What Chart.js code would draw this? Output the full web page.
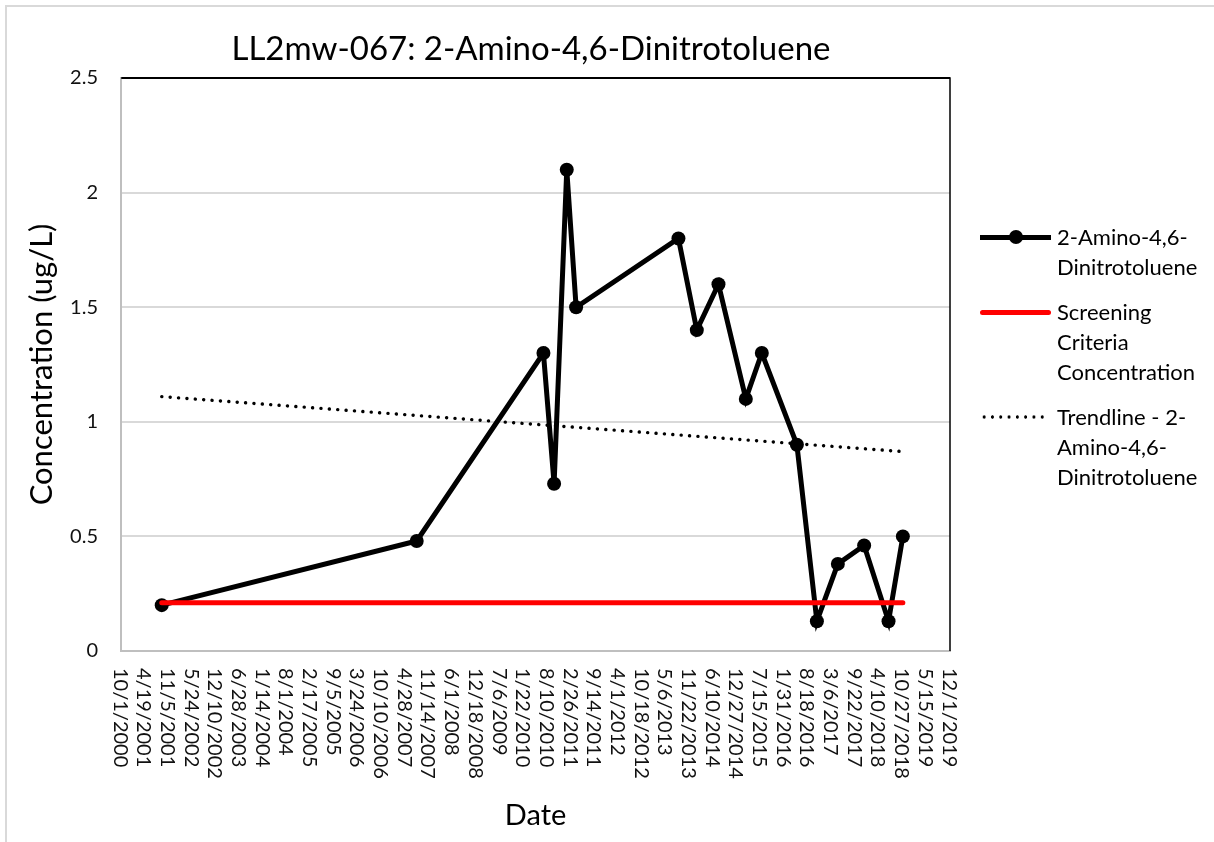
<!DOCTYPE html>
<html>
<head>
<meta charset="utf-8">
<script src="https://cdn.jsdelivr.net/npm/chart.js@4.4.1/dist/chart.umd.min.js"></script>
<style>
    html, body { margin: 0; padding: 0; background: #fff; overflow: hidden; }
    #wrap { position: relative; width: 1214px; height: 842px; font-family: Lato, "Open Sans", sans-serif; color: #000; }
    #frame { position: absolute; left: 5px; top: 5px; width: 1300px; height: 900px; border: 2px solid #d9d9d9; box-sizing: border-box; }
    #chart { position: absolute; left: 0; top: 0; }
    #title { position: absolute; left: 0; top: 27px; width: 1062px; text-align: center; font-size: 33px; line-height: 40px; }
    #legend { position: absolute; left: 980px; top: 222px; }
    .item { display: flex; margin-bottom: 15px; }
    .sym { position: relative; width: 77px; height: 30px; flex: none; }
    .sym .ln { position: absolute; left: 0; top: 13px; width: 71px; height: 5px; }
    .sym .dot { position: absolute; left: 29px; top: 8px; width: 14px; height: 14px; border-radius: 50%; background: #000; }
    .sym .dots { position: absolute; left: 0; top: 13px; width: 68px; height: 4px;
        background-image: radial-gradient(circle, #000 1.4px, transparent 1.9px); background-size: 8.3px 4px; }
    .txt { font-size: 22px; line-height: 30px; }
</style>
</head>
<body>
<div id="wrap">
    <div id="frame"></div>
    <canvas id="chart" width="1214" height="842"></canvas>
    <div id="title">LL2mw-067: 2-Amino-4,6-Dinitrotoluene</div>
    <div id="legend"></div>
</div>
<script>
// ---------- données ----------
const sampleDates = ["9/10/2001", "8/3/2007", "7/8/2010", "10/6/2010", "1/21/2011", "4/10/2011",
    "8/21/2013", "1/23/2014", "7/25/2014", "3/13/2015", "7/26/2015", "5/17/2016",
    "11/2/2016", "4/28/2017", "12/6/2017", "6/30/2018", "10/29/2018"];
const concentrations = [0.2, 0.48, 1.3, 0.73, 2.1, 1.5, 1.8, 1.4, 1.6, 1.1, 1.3, 0.9, 0.13, 0.38, 0.46, 0.13, 0.5];
const screeningLevel = [0.21, 0.21];
const trendLevel = [1.11, 0.87];

const axisStart = "10/1/2000";
const axisEnd = "12/1/2019";
const tickStepDays = 200;
const yTicks = [0, 0.5, 1, 1.5, 2, 2.5];

const legendLabels = [
    ["2-Amino-4,6-", "Dinitrotoluene"],
    ["Screening", "Criteria", "Concentration"],
    ["Trendline - 2-", "Amino-4,6-", "Dinitrotoluene"]
];

// ---------- dates <-> jours ----------
function toUTC(str) {
    const [m, d, y] = str.split("/").map(Number);
    return Date.UTC(y, m - 1, d);
}
const origin = toUTC(axisStart);
const dayOf = s => Math.round((toUTC(s) - origin) / 86400000);
function fmtDate(days) {
    const dt = new Date(origin + days * 86400000);
    return (dt.getUTCMonth() + 1) + "/" + dt.getUTCDate() + "/" + dt.getUTCFullYear();
}

const xs = sampleDates.map(dayOf);
const first = xs[0], last = xs[xs.length - 1];

// ---------- étiquettes de dates verticales (lecture de haut en bas) ----------
const dateLabels = {
    id: "dateLabels",
    afterDraw(chart) {
        const sc = chart.scales.x;
        const ctx = chart.ctx;
        ctx.save();
        ctx.font = "20px Lato";
        ctx.fillStyle = "#111";
        ctx.textAlign = "left";
        ctx.textBaseline = "middle";
        sc.ticks.forEach(t => {
            ctx.save();
            ctx.translate(sc.getPixelForValue(t.value) - 1, sc.top + 17);
            ctx.rotate(Math.PI / 2);
            ctx.fillText(fmtDate(t.value), 0, 0);
            ctx.restore();
        });
        ctx.restore();
    }
};

// bord noir haut / droite de la zone de tracé
const plotFrame = {
    id: "plotFrame",
    beforeDatasetsDraw(chart) {
        const a = chart.chartArea, ctx = chart.ctx;
        ctx.save();
        ctx.strokeStyle = "#000";
        ctx.lineWidth = 1.5;
        ctx.beginPath();
        ctx.moveTo(a.left, a.top);
        ctx.lineTo(a.right, a.top);
        ctx.lineTo(a.right, a.bottom);
        ctx.stroke();
        ctx.restore();
    }
};

new Chart(document.getElementById("chart"), {
    type: "line",
    data: {
        datasets: [
            {
                label: legendLabels[0].join(""),
                data: xs.map((x, i) => ({ x, y: concentrations[i] })),
                borderColor: "#000",
                backgroundColor: "#000",
                borderWidth: 5,
                pointRadius: 7,
                pointBackgroundColor: "#000",
                pointBorderWidth: 0,
                order: 3
            },
            {
                label: legendLabels[1].join(" "),
                data: [{ x: first, y: screeningLevel[0] }, { x: last, y: screeningLevel[1] }],
                borderColor: "#ff0000",
                borderWidth: 5,
                borderCapStyle: "round",
                pointRadius: 0,
                order: 2
            },
            {
                label: legendLabels[2].join(""),
                data: [{ x: first, y: trendLevel[0] }, { x: last, y: trendLevel[1] }],
                borderColor: "#000",
                borderWidth: 3.4,
                borderDash: [0.1, 8.3],
                borderCapStyle: "round",
                pointRadius: 0,
                order: 1
            }
        ]
    },
    options: {
        responsive: false,
        animation: false,
        layout: { padding: { left: 0, right: 264, top: 78, bottom: 0 } },
        plugins: { legend: { display: false }, tooltip: { enabled: false } },
        scales: {
            x: {
                type: "linear",
                min: 0,
                max: dayOf(axisEnd),
                ticks: { stepSize: tickStepDays, display: false },
                grid: { display: false },
                border: { display: true, color: "#bfbfbf", width: 2 },
                title: { display: true, text: "Date", color: "#000", font: { family: "Lato", size: 29 }, padding: { top: 0, bottom: 9 } },
                afterFit(s) { s.height = 842 - 651; }
            },
            y: {
                min: yTicks[0],
                max: yTicks[yTicks.length - 1],
                ticks: {
                    stepSize: 0.5,
                    color: "#111",
                    font: { family: "Lato", size: 20 },
                    padding: 23,
                    callback: v => String(v)
                },
                grid: {
                    color: c => c.tick && c.tick.value === 2.5 ? "#000" : "#d9d9d9",
                    lineWidth: 2,
                    drawTicks: false
                },
                border: { display: true, color: "#bfbfbf", width: 2 },
                title: { display: true, text: "Concentration (ug/L)", color: "#000", font: { family: "Lato", size: 31 }, padding: { top: 23, bottom: 0 } },
                afterFit(s) { s.width = 121; }
            }
        }
    },
    plugins: [plotFrame, dateLabels]
});

// ---------- légende HTML ----------
const legend = document.getElementById("legend");
const symbols = [
    '<div class="ln" style="background:#000"></div><div class="dot"></div>',
    '<div class="ln" style="background:#ff0000;border-radius:3px"></div>',
    '<div class="dots"></div>'
];
legendLabels.forEach((lines, i) => {
    legend.innerHTML += `
        <div class="item">
            <div class="sym">${symbols[i]}</div>
            <div class="txt">${lines.join("<br>")}</div>
        </div>`;
});
</script>
</body>
</html>
